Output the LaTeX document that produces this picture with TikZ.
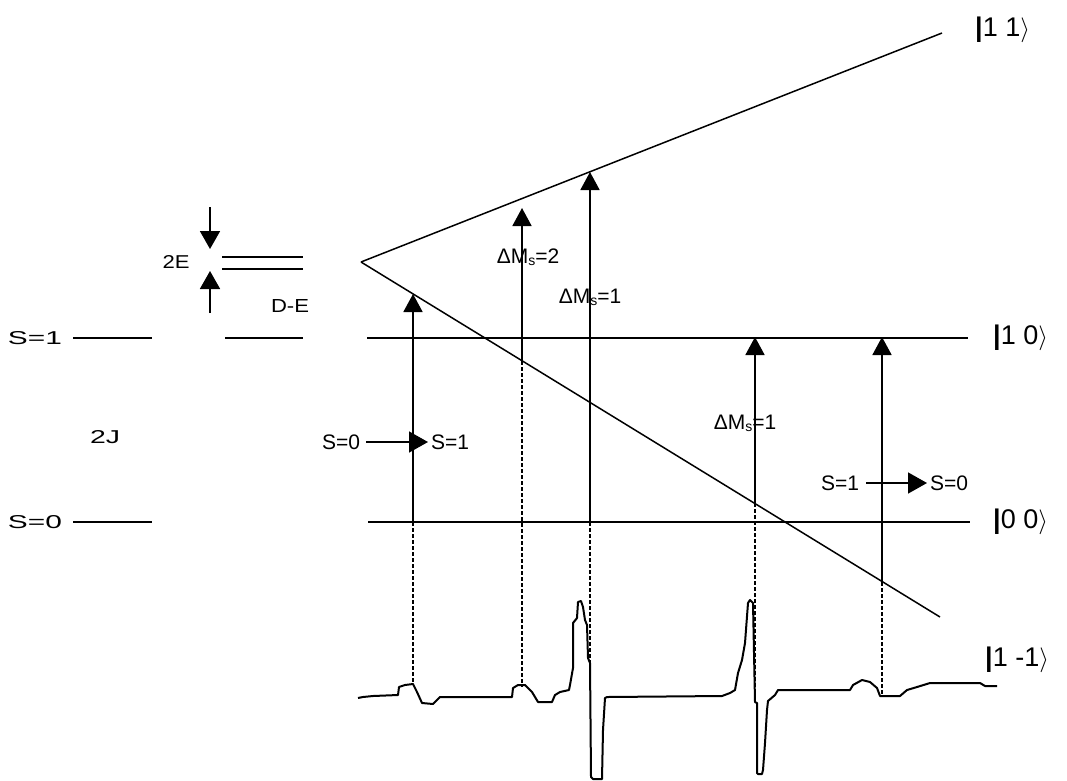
\documentclass[tikz,border=0pt]{standalone}
\usepackage{graphicx}
\usepackage{fontspec}
\setmainfont{Liberation Sans}
\usetikzlibrary{arrows.meta}
\newcommand{\msub}{\raisebox{-2pt}{\fontsize{14}{16}\selectfont s}}
\begin{document}
\begin{tikzpicture}[x=1pt,y=-1pt,
  lvl/.style={line width=1.8pt},
  slope/.style={line width=1.5pt},
  trans/.style={line width=1.8pt,-{Triangle[length=18pt,width=19pt]}},
  harrow/.style={line width=1.6pt,-{Triangle[length=19pt,width=21pt]}},
  drop/.style={line width=1.3pt,dash pattern=on 4pt off 2pt},
  ket/.style={font=\fontsize{27}{32}\selectfont,inner sep=0pt,anchor=west},
  lab/.style={font=\fontsize{21}{25}\selectfont,inner sep=0pt},
  old/.style={inner sep=0pt},
  trace/.style={line width=2pt,line join=round}
]
\useasboundingbox (0,0) rectangle (1067,780);

% Zeeman lines
\coordinate (V) at (361,262);
\coordinate (P11) at (942,33);
\coordinate (P1m1) at (940,617);
\draw[slope] (V) -- (P11);
\draw[slope] (V) -- (P1m1);

% horizontal levels
\coordinate (L10a) at (367,338); \coordinate (L10b) at (968,338);
\coordinate (L00a) at (368,522); \coordinate (L00b) at (970,522);
\draw[lvl] (L10a) -- (L10b);
\draw[lvl] (L00a) -- (L00b);

% kets
\node[ket] (k11) at (975,30) {{\bfseries|}1\ 1$\rangle$};
\node[ket] (k10) at (993,338) {{\bfseries|}1\ 0$\rangle$};
\node[ket] (k00) at (993,522) {{\bfseries|}0\ 0$\rangle$};
\node[ket] (k1m1) at (985,660) {{\bfseries|}1\ -1$\rangle$};

% left level scheme
\node[old] (s1l) at (35,338) {\resizebox{54pt}{13pt}{S=1}};
\node[old] (s0l) at (35,522) {\resizebox{54pt}{13pt}{S=0}};
\node[old] (twoJ) at (105,437) {\resizebox{30pt}{13pt}{2J}};
\node[old] (twoE) at (176,262) {\resizebox{27pt}{13pt}{2E}};
\node[old] (DmE) at (290,306) {\resizebox{38pt}{13pt}{D-E}};
\draw[lvl] (73,338) -- (152,338);
\draw[lvl] (73,522) -- (152,522);
\draw[lvl] (225,338) -- (303,338);
\draw[lvl] (222,257) -- (303,257);
\draw[lvl] (222,269) -- (303,269);
\coordinate (dTop) at (210,207); \coordinate (dTip) at (210,249);
\coordinate (uBot) at (210,313); \coordinate (uTip) at (210,271);
\draw[line width=1.8pt,-{Triangle[length=18pt,width=20pt]}] (dTop) -- (dTip);
\draw[line width=1.8pt,-{Triangle[length=18pt,width=20pt]}] (uBot) -- (uTip);

% transitions
\coordinate (a1s) at (413,522); \coordinate (a1t) at (413,294); \coordinate (a1d) at (413,685);
\coordinate (a2s) at (522,361); \coordinate (a2t) at (522,208); \coordinate (a2d) at (522,687);
\coordinate (a3s) at (590,522); \coordinate (a3t) at (590,172); \coordinate (a3d) at (590,662);
\coordinate (a4s) at (755,503); \coordinate (a4t) at (755,337); \coordinate (a4d) at (755,700);
\coordinate (a5s) at (882,582); \coordinate (a5t) at (882,337); \coordinate (a5d) at (882,695);
\foreach \i in {1,...,5}{
  \draw[trans] (a\i s) -- (a\i t);
  \draw[drop] (a\i s) -- (a\i d);
}

% labels
\node[lab] (l01a) at (341,442) {S=0};
\node[lab] (l01b) at (450,442) {S=1};
\draw[harrow] (l01a.east) ++(6,0) coordinate (h1s) -- (428,442) coordinate (h1t);
\node[lab] (l10a) at (840,483) {S=1};
\node[lab] (l10b) at (949,483) {S=0};
\draw[harrow] (l10a.east) ++(7,0) coordinate (h2s) -- (927,483) coordinate (h2t);
\node[lab] (dm2) at (528,257) {ΔM\msub=2};
\node[lab] (dm1a) at (590,297) {ΔM\msub=1};
\node[lab] (dm1b) at (745,423) {ΔM\msub=1};

% spectrum trace
\draw[trace] plot coordinates {
(358,698) (363,697) (373,696) (398,695) (399,687) (405,685) (413,684)
(417,692) (422,703) (433,704) (440,697) (512,697) (513,688) (518,685)
(525,685) (532,692) (538,702) (552,702) (555,695) (560,692) (569,690)
(570,685) (573,668) (573,623) (577,618) (578,602) (581,601) (583,607)
(585,620) (587,625) (588,658) (590,663) (591,777) (593,779) (602,779)
(603,730) (605,698) (607,697) (722,696) (730,693) (735,690) (738,673)
(742,660) (745,643) (748,603) (750,600) (753,603) (754,653) (755,702)
(757,703) (757,773) (758,774) (762,774) (763,770) (765,743) (767,710)
(768,701) (775,695) (778,690) (850,690) (853,685) (862,680) (870,682)
(877,688) (880,696) (900,696) (907,690) (917,687) (930,683) (980,683)
(985,686) (997,686)};
\end{tikzpicture}
\end{document}
